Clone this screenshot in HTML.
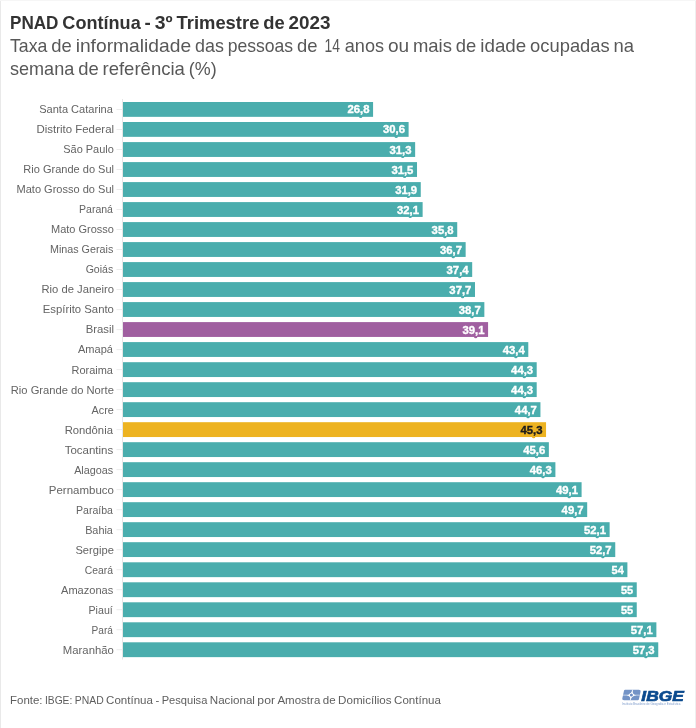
<!DOCTYPE html>
<html lang="pt-BR"><head><meta charset="utf-8"><title>PNAD Contínua - 3º Trimestre de 2023</title>
<style>
html,body{margin:0;padding:0;background:#fff;}
body{width:696px;height:728px;overflow:hidden;position:relative;}
svg{display:block;position:absolute;left:0;top:0;}
text{font-family:"Liberation Sans",sans-serif;}
.lab{font-size:11.5px;fill:#646464;}
.val{font-size:10.3px;font-weight:bold;fill:#fff;stroke:#fff;stroke-width:0.35px;}
.val.dk{fill:#1c1c1c;stroke:#1c1c1c;}
</style></head><body>
<svg width="696" height="728" viewBox="0 0 696 728">
<rect x="0" y="0" width="696" height="728" fill="#fff"/>
<rect x="0" y="0" width="1" height="728" fill="#e9e9e9"/>
<rect x="695" y="0" width="1" height="728" fill="#efefef"/>
<rect x="0" y="0" width="696" height="1" fill="#f6f6f6"/>
<text y="28.8" font-size="17.8" font-weight="bold" fill="#333"><tspan x="10.00" textLength="48.48" lengthAdjust="spacingAndGlyphs">PNAD</tspan> <tspan x="62.39" textLength="78.33" lengthAdjust="spacingAndGlyphs">Contínua</tspan> <tspan x="144.64" textLength="6.27" lengthAdjust="spacingAndGlyphs">-</tspan> <tspan x="154.82" textLength="17.84" lengthAdjust="spacingAndGlyphs">3º</tspan> <tspan x="176.57" textLength="82.80" lengthAdjust="spacingAndGlyphs">Trimestre</tspan> <tspan x="263.29" textLength="21.42" lengthAdjust="spacingAndGlyphs">de</tspan> <tspan x="288.62" textLength="41.98" lengthAdjust="spacingAndGlyphs">2023</tspan></text>
<text y="51.85" font-size="17.8" fill="#585858"><tspan x="10.00" textLength="37.36" lengthAdjust="spacingAndGlyphs">Taxa</tspan> <tspan x="51.26" textLength="20.50" lengthAdjust="spacingAndGlyphs">de</tspan> <tspan x="75.66" textLength="115.44" lengthAdjust="spacingAndGlyphs">informalidade</tspan> <tspan x="195.00" textLength="28.83" lengthAdjust="spacingAndGlyphs">das</tspan> <tspan x="227.73" textLength="65.43" lengthAdjust="spacingAndGlyphs">pessoas</tspan> <tspan x="297.06" textLength="20.50" lengthAdjust="spacingAndGlyphs">de</tspan> <tspan x="324.52" textLength="15.39" lengthAdjust="spacingAndGlyphs">14</tspan> <tspan x="344.76" textLength="39.25" lengthAdjust="spacingAndGlyphs">anos</tspan> <tspan x="387.90" textLength="21.18" lengthAdjust="spacingAndGlyphs">ou</tspan> <tspan x="412.99" textLength="38.97" lengthAdjust="spacingAndGlyphs">mais</tspan> <tspan x="455.87" textLength="20.50" lengthAdjust="spacingAndGlyphs">de</tspan> <tspan x="480.27" textLength="45.96" lengthAdjust="spacingAndGlyphs">idade</tspan> <tspan x="530.13" textLength="79.57" lengthAdjust="spacingAndGlyphs">ocupadas</tspan> <tspan x="613.60" textLength="20.50" lengthAdjust="spacingAndGlyphs">na</tspan></text>
<text y="74.7" font-size="17.8" fill="#585858"><tspan x="10.00" textLength="64.26" lengthAdjust="spacingAndGlyphs">semana</tspan> <tspan x="78.16" textLength="20.47" lengthAdjust="spacingAndGlyphs">de</tspan> <tspan x="102.53" textLength="82.34" lengthAdjust="spacingAndGlyphs">referência</tspan> <tspan x="188.77" textLength="27.86" lengthAdjust="spacingAndGlyphs">(%)</tspan></text>
<rect x="122" y="99" width="1" height="560.5" fill="#e6e6e6"/>
<rect x="116.5" y="109.0" width="6" height="1" fill="#ebebeb"/>
<rect x="123" y="102.0" width="250.08" height="14.84" fill="#4aadad"/>
<ellipse cx="360.68" cy="116.57" rx="1.7" ry="1.5" fill="#4aadad"/>
<text class="lab" x="39.15" y="113.3" textLength="73.77" lengthAdjust="spacingAndGlyphs">Santa Catarina</text>
<text class="val" x="347.48" y="113.4" textLength="22.00" lengthAdjust="spacingAndGlyphs">26,8</text>
<rect x="116.5" y="129.0" width="6" height="1" fill="#ebebeb"/>
<rect x="123" y="122.0" width="285.61" height="14.84" fill="#4aadad"/>
<ellipse cx="396.21" cy="136.58" rx="1.7" ry="1.5" fill="#4aadad"/>
<text class="lab" x="36.46" y="133.3" textLength="77.59" lengthAdjust="spacingAndGlyphs">Distrito Federal</text>
<text class="val" x="383.01" y="133.4" textLength="22.00" lengthAdjust="spacingAndGlyphs">30,6</text>
<rect x="116.5" y="149.0" width="6" height="1" fill="#ebebeb"/>
<rect x="123" y="142.1" width="292.15" height="14.84" fill="#4aadad"/>
<ellipse cx="402.75" cy="156.59" rx="1.7" ry="1.5" fill="#4aadad"/>
<text class="lab" x="63.22" y="153.4" textLength="50.66" lengthAdjust="spacingAndGlyphs">São Paulo</text>
<text class="val" x="389.55" y="153.5" textLength="22.00" lengthAdjust="spacingAndGlyphs">31,3</text>
<rect x="116.5" y="169.0" width="6" height="1" fill="#ebebeb"/>
<rect x="123" y="162.1" width="294.02" height="14.84" fill="#4aadad"/>
<ellipse cx="404.62" cy="176.60" rx="1.7" ry="1.5" fill="#4aadad"/>
<text class="lab" x="23.35" y="173.4" textLength="90.68" lengthAdjust="spacingAndGlyphs">Rio Grande do Sul</text>
<text class="val" x="391.42" y="173.5" textLength="22.00" lengthAdjust="spacingAndGlyphs">31,5</text>
<rect x="116.5" y="189.0" width="6" height="1" fill="#ebebeb"/>
<rect x="123" y="182.1" width="297.76" height="14.84" fill="#4aadad"/>
<ellipse cx="408.37" cy="196.61" rx="1.7" ry="1.5" fill="#4aadad"/>
<text class="lab" x="16.52" y="193.4" textLength="97.51" lengthAdjust="spacingAndGlyphs">Mato Grosso do Sul</text>
<text class="val" x="395.16" y="193.5" textLength="22.00" lengthAdjust="spacingAndGlyphs">31,9</text>
<rect x="116.5" y="209.0" width="6" height="1" fill="#ebebeb"/>
<rect x="123" y="202.1" width="299.63" height="14.84" fill="#4aadad"/>
<ellipse cx="410.24" cy="216.62" rx="1.7" ry="1.5" fill="#4aadad"/>
<text class="lab" x="79.02" y="213.4" textLength="33.92" lengthAdjust="spacingAndGlyphs">Paraná</text>
<text class="val" x="397.03" y="213.5" textLength="22.00" lengthAdjust="spacingAndGlyphs">32,1</text>
<rect x="116.5" y="229.0" width="6" height="1" fill="#ebebeb"/>
<rect x="123" y="222.1" width="334.23" height="14.84" fill="#4aadad"/>
<ellipse cx="444.83" cy="236.63" rx="1.7" ry="1.5" fill="#4aadad"/>
<text class="lab" x="51.01" y="233.4" textLength="62.87" lengthAdjust="spacingAndGlyphs">Mato Grosso</text>
<text class="val" x="431.63" y="233.5" textLength="22.00" lengthAdjust="spacingAndGlyphs">35,8</text>
<rect x="116.5" y="249.0" width="6" height="1" fill="#ebebeb"/>
<rect x="123" y="242.1" width="342.65" height="14.84" fill="#4aadad"/>
<ellipse cx="453.25" cy="256.64" rx="1.7" ry="1.5" fill="#4aadad"/>
<text class="lab" x="49.93" y="253.4" textLength="63.34" lengthAdjust="spacingAndGlyphs">Minas Gerais</text>
<text class="val" x="440.05" y="253.5" textLength="22.00" lengthAdjust="spacingAndGlyphs">36,7</text>
<rect x="116.5" y="269.0" width="6" height="1" fill="#ebebeb"/>
<rect x="123" y="262.1" width="349.19" height="14.84" fill="#4aadad"/>
<ellipse cx="459.79" cy="276.65" rx="1.7" ry="1.5" fill="#4aadad"/>
<text class="lab" x="85.67" y="273.4" textLength="27.60" lengthAdjust="spacingAndGlyphs">Goiás</text>
<text class="val" x="446.59" y="273.5" textLength="22.00" lengthAdjust="spacingAndGlyphs">37,4</text>
<rect x="116.5" y="289.0" width="6" height="1" fill="#ebebeb"/>
<rect x="123" y="282.1" width="352.00" height="14.84" fill="#4aadad"/>
<ellipse cx="462.60" cy="296.66" rx="1.7" ry="1.5" fill="#4aadad"/>
<text class="lab" x="41.49" y="293.4" textLength="72.40" lengthAdjust="spacingAndGlyphs">Rio de Janeiro</text>
<text class="val" x="449.39" y="293.5" textLength="22.00" lengthAdjust="spacingAndGlyphs">37,7</text>
<rect x="116.5" y="309.1" width="6" height="1" fill="#ebebeb"/>
<rect x="123" y="302.1" width="361.35" height="14.84" fill="#4aadad"/>
<ellipse cx="471.95" cy="316.67" rx="1.7" ry="1.5" fill="#4aadad"/>
<text class="lab" x="42.74" y="313.4" textLength="71.15" lengthAdjust="spacingAndGlyphs">Espírito Santo</text>
<text class="val" x="458.75" y="313.5" textLength="22.00" lengthAdjust="spacingAndGlyphs">38,7</text>
<rect x="116.5" y="329.1" width="6" height="1" fill="#ebebeb"/>
<rect x="123" y="322.1" width="365.08" height="14.84" fill="#a05fa0"/>
<ellipse cx="475.69" cy="336.68" rx="1.7" ry="1.5" fill="#a05fa0"/>
<text class="lab" x="85.67" y="333.4" textLength="28.38" lengthAdjust="spacingAndGlyphs">Brasil</text>
<text class="val" x="462.48" y="333.5" textLength="22.00" lengthAdjust="spacingAndGlyphs">39,1</text>
<rect x="116.5" y="349.1" width="6" height="1" fill="#ebebeb"/>
<rect x="123" y="342.1" width="405.29" height="14.84" fill="#4aadad"/>
<ellipse cx="515.89" cy="356.69" rx="1.7" ry="1.5" fill="#4aadad"/>
<text class="lab" x="77.95" y="353.4" textLength="34.97" lengthAdjust="spacingAndGlyphs">Amapá</text>
<text class="val" x="502.69" y="353.5" textLength="22.00" lengthAdjust="spacingAndGlyphs">43,4</text>
<rect x="116.5" y="369.1" width="6" height="1" fill="#ebebeb"/>
<rect x="123" y="362.2" width="413.70" height="14.84" fill="#4aadad"/>
<ellipse cx="524.30" cy="376.70" rx="1.7" ry="1.5" fill="#4aadad"/>
<text class="lab" x="71.48" y="373.5" textLength="41.44" lengthAdjust="spacingAndGlyphs">Roraima</text>
<text class="val" x="511.10" y="373.6" textLength="22.00" lengthAdjust="spacingAndGlyphs">44,3</text>
<rect x="116.5" y="389.1" width="6" height="1" fill="#ebebeb"/>
<rect x="123" y="382.2" width="413.70" height="14.84" fill="#4aadad"/>
<ellipse cx="524.30" cy="396.71" rx="1.7" ry="1.5" fill="#4aadad"/>
<text class="lab" x="10.78" y="393.5" textLength="103.11" lengthAdjust="spacingAndGlyphs">Rio Grande do Norte</text>
<text class="val" x="511.10" y="393.6" textLength="22.00" lengthAdjust="spacingAndGlyphs">44,3</text>
<rect x="116.5" y="409.1" width="6" height="1" fill="#ebebeb"/>
<rect x="123" y="402.2" width="417.44" height="14.84" fill="#4aadad"/>
<ellipse cx="528.04" cy="416.72" rx="1.7" ry="1.5" fill="#4aadad"/>
<text class="lab" x="91.59" y="413.5" textLength="22.28" lengthAdjust="spacingAndGlyphs">Acre</text>
<text class="val" x="514.85" y="413.6" textLength="22.00" lengthAdjust="spacingAndGlyphs">44,7</text>
<rect x="116.5" y="429.1" width="6" height="1" fill="#ebebeb"/>
<rect x="123" y="422.2" width="423.05" height="14.84" fill="#edb321"/>
<ellipse cx="533.65" cy="436.73" rx="1.7" ry="1.5" fill="#edb321"/>
<text class="lab" x="64.66" y="433.5" textLength="48.25" lengthAdjust="spacingAndGlyphs">Rondônia</text>
<text class="val dk" x="520.46" y="433.6" textLength="22.00" lengthAdjust="spacingAndGlyphs">45,3</text>
<rect x="116.5" y="449.1" width="6" height="1" fill="#ebebeb"/>
<rect x="123" y="442.2" width="425.86" height="14.84" fill="#4aadad"/>
<ellipse cx="536.46" cy="456.74" rx="1.7" ry="1.5" fill="#4aadad"/>
<text class="lab" x="64.66" y="453.5" textLength="48.59" lengthAdjust="spacingAndGlyphs">Tocantins</text>
<text class="val" x="523.26" y="453.6" textLength="22.00" lengthAdjust="spacingAndGlyphs">45,6</text>
<rect x="116.5" y="469.1" width="6" height="1" fill="#ebebeb"/>
<rect x="123" y="462.2" width="432.40" height="14.84" fill="#4aadad"/>
<ellipse cx="543.00" cy="476.75" rx="1.7" ry="1.5" fill="#4aadad"/>
<text class="lab" x="74.17" y="473.5" textLength="39.09" lengthAdjust="spacingAndGlyphs">Alagoas</text>
<text class="val" x="529.81" y="473.6" textLength="22.00" lengthAdjust="spacingAndGlyphs">46,3</text>
<rect x="116.5" y="489.1" width="6" height="1" fill="#ebebeb"/>
<rect x="123" y="482.2" width="458.59" height="14.84" fill="#4aadad"/>
<ellipse cx="569.19" cy="496.76" rx="1.7" ry="1.5" fill="#4aadad"/>
<text class="lab" x="48.85" y="493.5" textLength="65.04" lengthAdjust="spacingAndGlyphs">Pernambuco</text>
<text class="val" x="555.99" y="493.6" textLength="22.00" lengthAdjust="spacingAndGlyphs">49,1</text>
<rect x="116.5" y="509.2" width="6" height="1" fill="#ebebeb"/>
<rect x="123" y="502.2" width="464.19" height="14.84" fill="#4aadad"/>
<ellipse cx="574.79" cy="516.77" rx="1.7" ry="1.5" fill="#4aadad"/>
<text class="lab" x="75.97" y="513.5" textLength="36.98" lengthAdjust="spacingAndGlyphs">Paraíba</text>
<text class="val" x="561.60" y="513.6" textLength="22.00" lengthAdjust="spacingAndGlyphs">49,7</text>
<rect x="116.5" y="529.2" width="6" height="1" fill="#ebebeb"/>
<rect x="123" y="522.2" width="486.63" height="14.84" fill="#4aadad"/>
<ellipse cx="597.24" cy="536.78" rx="1.7" ry="1.5" fill="#4aadad"/>
<text class="lab" x="85.13" y="533.5" textLength="27.80" lengthAdjust="spacingAndGlyphs">Bahia</text>
<text class="val" x="584.04" y="533.6" textLength="22.00" lengthAdjust="spacingAndGlyphs">52,1</text>
<rect x="116.5" y="549.2" width="6" height="1" fill="#ebebeb"/>
<rect x="123" y="542.2" width="492.25" height="14.84" fill="#4aadad"/>
<ellipse cx="602.85" cy="556.79" rx="1.7" ry="1.5" fill="#4aadad"/>
<text class="lab" x="75.43" y="553.5" textLength="38.45" lengthAdjust="spacingAndGlyphs">Sergipe</text>
<text class="val" x="589.65" y="553.6" textLength="22.00" lengthAdjust="spacingAndGlyphs">52,7</text>
<rect x="116.5" y="569.2" width="6" height="1" fill="#ebebeb"/>
<rect x="123" y="562.3" width="504.40" height="14.84" fill="#4aadad"/>
<text class="lab" x="84.77" y="573.6" textLength="28.19" lengthAdjust="spacingAndGlyphs">Ceará</text>
<text class="val" x="611.60" y="573.7" textLength="12.21" lengthAdjust="spacingAndGlyphs">54</text>
<rect x="116.5" y="589.2" width="6" height="1" fill="#ebebeb"/>
<rect x="123" y="582.3" width="513.75" height="14.84" fill="#4aadad"/>
<text class="lab" x="61.06" y="593.6" textLength="52.20" lengthAdjust="spacingAndGlyphs">Amazonas</text>
<text class="val" x="620.95" y="593.7" textLength="12.21" lengthAdjust="spacingAndGlyphs">55</text>
<rect x="116.5" y="609.2" width="6" height="1" fill="#ebebeb"/>
<rect x="123" y="602.3" width="513.75" height="14.84" fill="#4aadad"/>
<text class="lab" x="88.54" y="613.6" textLength="24.21" lengthAdjust="spacingAndGlyphs">Piauí</text>
<text class="val" x="620.95" y="613.7" textLength="12.21" lengthAdjust="spacingAndGlyphs">55</text>
<rect x="116.5" y="629.2" width="6" height="1" fill="#ebebeb"/>
<rect x="123" y="622.3" width="533.38" height="14.84" fill="#4aadad"/>
<ellipse cx="643.99" cy="636.83" rx="1.7" ry="1.5" fill="#4aadad"/>
<text class="lab" x="91.59" y="633.6" textLength="21.37" lengthAdjust="spacingAndGlyphs">Pará</text>
<text class="val" x="630.79" y="633.7" textLength="22.00" lengthAdjust="spacingAndGlyphs">57,1</text>
<rect x="116.5" y="649.2" width="6" height="1" fill="#ebebeb"/>
<rect x="123" y="642.3" width="535.25" height="14.84" fill="#4aadad"/>
<ellipse cx="645.86" cy="656.84" rx="1.7" ry="1.5" fill="#4aadad"/>
<text class="lab" x="62.86" y="653.6" textLength="51.03" lengthAdjust="spacingAndGlyphs">Maranhão</text>
<text class="val" x="632.66" y="653.7" textLength="22.00" lengthAdjust="spacingAndGlyphs">57,3</text>
<text y="703.5" font-size="11.5" fill="#5e5e5e"><tspan x="10.00" textLength="32.52" lengthAdjust="spacingAndGlyphs">Fonte:</tspan> <tspan x="44.95" textLength="27.37" lengthAdjust="spacingAndGlyphs">IBGE:</tspan> <tspan x="74.76" textLength="28.93" lengthAdjust="spacingAndGlyphs">PNAD</tspan> <tspan x="106.13" textLength="46.82" lengthAdjust="spacingAndGlyphs">Contínua</tspan> <tspan x="155.39" textLength="3.79" lengthAdjust="spacingAndGlyphs">-</tspan> <tspan x="161.63" textLength="45.72" lengthAdjust="spacingAndGlyphs">Pesquisa</tspan> <tspan x="209.79" textLength="45.14" lengthAdjust="spacingAndGlyphs">Nacional</tspan> <tspan x="257.37" textLength="17.61" lengthAdjust="spacingAndGlyphs">por</tspan> <tspan x="277.42" textLength="42.91" lengthAdjust="spacingAndGlyphs">Amostra</tspan> <tspan x="322.77" textLength="12.82" lengthAdjust="spacingAndGlyphs">de</tspan> <tspan x="338.02" textLength="53.62" lengthAdjust="spacingAndGlyphs">Domicílios</tspan> <tspan x="394.08" textLength="46.82" lengthAdjust="spacingAndGlyphs">Contínua</tspan></text>
<g id="logo">
<g transform="translate(621.9,700.3) skewX(-12.4)">
<path d="M1 -10.5 H14.6 A2.2 2.2 0 0 1 16.8 -8.3 V-1 A1 1 0 0 1 15.8 0 H2.2 A2.2 2.2 0 0 1 0 -2.2 V-9.5 A1 1 0 0 1 1 -10.5 Z" fill="#7393c6"/>
<path d="M0 -5.15 H16.8" stroke="#fff" stroke-width="0.55" fill="none"/>
<path d="M8.4 0 V-10.5" stroke="#fff" stroke-width="0.8" fill="none"/>
<path d="M3.6 -5.15 Q7.8 -5.7 8.4 -9.9 Q9.0 -5.7 13.2 -5.15 Q9.0 -4.6 8.4 -0.5 Q7.8 -4.6 3.6 -5.15 Z" fill="#fff"/>
</g>
<circle cx="631.4" cy="694.95" r="2.15" fill="#fff"/>
<circle cx="631.4" cy="694.95" r="1.5" fill="#6c8dc4"/>
<text x="641.35" y="700.5" font-size="15.3" font-weight="bold" font-style="italic" fill="#0b4a8e" stroke="#0b4a8e" stroke-width="0.7" stroke-linejoin="miter" textLength="42.45" lengthAdjust="spacingAndGlyphs">IBGE</text>
<text x="621.90" y="704.9" font-size="2.8" fill="#7d9bcb" textLength="58.63" lengthAdjust="spacingAndGlyphs">Instituto Brasileiro de Geografia e Estatística</text>
</g>
</svg>
</body></html>
